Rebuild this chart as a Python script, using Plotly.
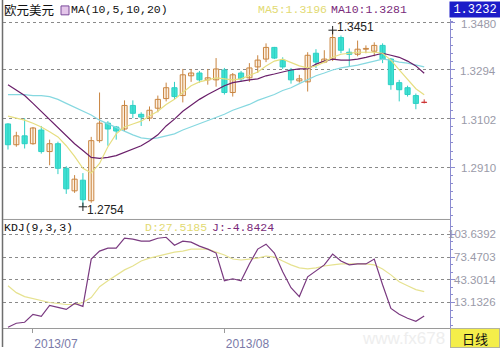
import plotly.graph_objects as go

W, H = 500, 351

# ---------------- data ----------------
opens = [1.3081, 1.2999, 1.3034, 1.3003, 1.3057, 1.2972, 1.3003, 1.2906, 1.2817, 1.2859,
         1.2778, 1.3015, 1.3084, 1.3069, 1.3061, 1.3154, 1.3119, 1.3104, 1.3143, 1.3181,
         1.3224, 1.3193, 1.3271, 1.3282, 1.3255, 1.3255, 1.3294, 1.3205, 1.3282, 1.3263,
         1.3306, 1.3337, 1.3383, 1.3333, 1.3294, 1.3251, 1.3247, 1.3360, 1.3325, 1.3337,
         1.3422, 1.3364, 1.3356, 1.3376, 1.3368, 1.3391, 1.3337, 1.3244, 1.3224, 1.3193, 1.3166]
highs = [1.3084, 1.3050, 1.3104, 1.3069, 1.3073, 1.3019, 1.3011, 1.2914, 1.2879, 1.2887,
         1.3030, 1.3205, 1.3092, 1.3073, 1.3174, 1.3174, 1.3127, 1.3150, 1.3193, 1.3244,
         1.3247, 1.3298, 1.3298, 1.3290, 1.3298, 1.3341, 1.3302, 1.3282, 1.3290, 1.3321,
         1.3352, 1.3399, 1.3385, 1.3344, 1.3302, 1.3275, 1.3364, 1.3376, 1.3372, 1.3451,
         1.3430, 1.3379, 1.3410, 1.3391, 1.3403, 1.3399, 1.3341, 1.3255, 1.3232, 1.3201, 1.3178]
lows = [1.2980, 1.2991, 1.2984, 1.2999, 1.2964, 1.2918, 1.2883, 1.2805, 1.2809, 1.2754,
        1.2770, 1.3007, 1.2995, 1.3019, 1.3053, 1.3104, 1.3073, 1.3092, 1.3127, 1.3170,
        1.3178, 1.3166, 1.3247, 1.3244, 1.3236, 1.3228, 1.3197, 1.3189, 1.3247, 1.3247,
        1.3282, 1.3325, 1.3337, 1.3298, 1.3240, 1.3244, 1.3209, 1.3302, 1.3321, 1.3329,
        1.3360, 1.3306, 1.3348, 1.3360, 1.3348, 1.3321, 1.3216, 1.3170, 1.3189, 1.3139, 1.3162]
closes = [1.2999, 1.3034, 1.3003, 1.3065, 1.2972, 1.3003, 1.2906, 1.2825, 1.2863, 1.2782,
          1.3015, 1.3084, 1.3061, 1.3053, 1.3154, 1.3123, 1.3108, 1.3135, 1.3178, 1.3224,
          1.3189, 1.3275, 1.3282, 1.3255, 1.3263, 1.3298, 1.3205, 1.3275, 1.3259, 1.3302,
          1.3333, 1.3383, 1.3341, 1.3306, 1.3255, 1.3259, 1.3352, 1.3325, 1.3337, 1.3422,
          1.3372, 1.3356, 1.3376, 1.3379, 1.3391, 1.3337, 1.3236, 1.3216, 1.3197, 1.3162, 1.3166]

ma5 = [1.3112, 1.3104, 1.3096, 1.3084, 1.3069, 1.3050, 1.3030, 1.2995, 1.2953, 1.2906,
       1.2887, 1.2925, 1.2991, 1.3042, 1.3069, 1.3081, 1.3092, 1.3112, 1.3131, 1.3158,
       1.3178, 1.3205, 1.3232, 1.3247, 1.3255, 1.3263, 1.3259, 1.3255, 1.3259, 1.3271,
       1.3286, 1.3310, 1.3329, 1.3337, 1.3325, 1.3310, 1.3302, 1.3310, 1.3325, 1.3344,
       1.3356, 1.3360, 1.3364, 1.3364, 1.3364, 1.3360, 1.3333, 1.3294, 1.3255, 1.3220, 1.3196]
ma10 = [1.3236, 1.3216, 1.3193, 1.3162, 1.3131, 1.3096, 1.3065, 1.3034, 1.3003, 1.2976,
        1.2949, 1.2945, 1.2949, 1.2956, 1.2968, 1.2980, 1.2995, 1.3015, 1.3038, 1.3073,
        1.3100, 1.3131, 1.3154, 1.3178, 1.3197, 1.3216, 1.3232, 1.3244, 1.3251, 1.3255,
        1.3259, 1.3271, 1.3278, 1.3286, 1.3294, 1.3298, 1.3298, 1.3317, 1.3329, 1.3337,
        1.3333, 1.3333, 1.3337, 1.3344, 1.3352, 1.3360, 1.3352, 1.3344, 1.3329, 1.3310, 1.3281]
ma20 = [1.3197, 1.3197, 1.3197, 1.3193, 1.3193, 1.3189, 1.3178, 1.3162, 1.3147, 1.3131,
        1.3116, 1.3096, 1.3081, 1.3065, 1.3050, 1.3038, 1.3026, 1.3022, 1.3026, 1.3034,
        1.3042, 1.3057, 1.3069, 1.3084, 1.3096, 1.3108, 1.3119, 1.3135, 1.3147, 1.3158,
        1.3174, 1.3185, 1.3197, 1.3213, 1.3224, 1.3240, 1.3255, 1.3271, 1.3282, 1.3294,
        1.3302, 1.3306, 1.3313, 1.3321, 1.3329, 1.3337, 1.3333, 1.3325, 1.3321, 1.3313, 1.3306]

kdj_j = [-19.7, -14.4, -13.1, -2.6, -5.2, 9.2, 6.6, 3.9, 11.8, 7.9,
         70.8, 81.3, 85.3, 85.3, 98.4, 97.1, 94.5, 94.5, 98.4, 99.7,
         89.2, 94.5, 93.2, 87.9, 84.0, 78.7, 42.0, 44.6, 42.0, 64.3,
         84.0, 90.5, 78.7, 53.8, 32.8, 21.0, 47.2, 55.1, 63.0, 77.4,
         68.2, 63.0, 64.3, 64.3, 70.8, 36.7, 5.3, -2.6, -7.8, -11.8, -4.8424]
kdj_d = [35.4, 26.2, 21.0, 18.4, 15.7, 13.1, 11.8, 10.5, 10.5, 13.1,
         19.7, 34.1, 42.0, 49.8, 56.4, 61.6, 68.2, 72.1, 74.8, 77.4,
         80.0, 81.3, 84.0, 84.0, 84.0, 80.0, 76.1, 70.8, 69.5, 70.8,
         72.1, 74.8, 73.4, 68.2, 63.0, 59.0, 57.7, 59.0, 61.6, 63.0,
         64.3, 64.3, 64.3, 64.3, 63.0, 57.7, 49.8, 40.7, 35.4, 30.2, 27.5185]

price_ticks = [1.3480, 1.3294, 1.3102, 1.2910]
kdj_ticks = [103.6392, 73.4703, 43.3014, 13.1326]
date_tick_index = [3, 26]
date_tick_labels = ["2013/07", "2013/08"]
last_quote = 1.3232
title_text = "欧元美元"
ma_title = "MA(10,5,10,20)"
kdj_title = "KDJ(9,3,3)"
period_label = "日线"
watermark = "www.fx678"

# ---------------- helpers ----------------
def fx(p):
    return p / W

def fy(p):
    return 1 - p / H

n = len(opens)
idx = list(range(n))

UP_LINE, UP_FILL = "#c98540", "#fdf1e2"
DN_LINE, DN_FILL = "#2fcfc4", "#3fe3d3"
FLAT = "#cc3333"
MONO = "Liberation Mono, DejaVu Sans Mono, monospace"
SANS = "Liberation Sans, Arial, sans-serif"
CJK = "Noto Sans CJK SC, sans-serif"

kind = []
for o, c in zip(opens, closes):
    if c > o:
        kind.append("up")
    elif c < o:
        kind.append("dn")
    else:
        kind.append("flat")

fig = go.Figure()

# wicks
for k, col in (("up", UP_LINE), ("dn", DN_LINE), ("flat", FLAT)):
    xs, ys = [], []
    for i in idx:
        if kind[i] == k:
            xs += [i, i, None]
            ys += [lows[i], highs[i], None]
    fig.add_trace(go.Scatter(x=xs, y=ys, mode="lines", line=dict(color=col, width=1),
                             xaxis="x", yaxis="y", hoverinfo="skip"))

# bodies
fills = [UP_FILL if k == "up" else DN_FILL if k == "dn" else FLAT for k in kind]
lines = [UP_LINE if k == "up" else DN_LINE if k == "dn" else FLAT for k in kind]
fig.add_trace(go.Bar(
    x=idx,
    base=[min(o, c) for o, c in zip(opens, closes)],
    y=[max(abs(c - o), 0.00006) for o, c in zip(opens, closes)],
    width=0.62,
    marker=dict(color=fills, line=dict(color=lines, width=1)),
    xaxis="x", yaxis="y", hoverinfo="skip"))

# moving averages
fig.add_trace(go.Scatter(x=idx, y=ma20, mode="lines", line=dict(color="#86d8e0", width=1.2),
                         xaxis="x", yaxis="y", hoverinfo="skip"))
fig.add_trace(go.Scatter(x=idx, y=ma10, mode="lines", line=dict(color="#6a1f6a", width=1.2),
                         xaxis="x", yaxis="y", hoverinfo="skip"))
fig.add_trace(go.Scatter(x=idx, y=ma5, mode="lines", line=dict(color="#e6de80", width=1.2),
                         xaxis="x", yaxis="y", hoverinfo="skip"))

# extreme markers
i_hi = max(idx, key=lambda i: highs[i])
i_lo = min(idx, key=lambda i: lows[i])
fig.add_trace(go.Scatter(x=[i_hi, i_lo], y=[highs[i_hi], lows[i_lo]], mode="markers",
                         marker=dict(symbol="cross-thin", size=6,
                                     line=dict(color="#222222", width=1)),
                         xaxis="x", yaxis="y", hoverinfo="skip"))

# KDJ
fig.add_trace(go.Scatter(x=idx, y=kdj_d, mode="lines", line=dict(color="#e6e290", width=1.2),
                         xaxis="x2", yaxis="y2", hoverinfo="skip"))
fig.add_trace(go.Scatter(x=idx, y=kdj_j, mode="lines", line=dict(color="#7a3a80", width=1.2),
                         xaxis="x2", yaxis="y2", hoverinfo="skip"))

AXIS_COL = "#8c8cd0"
GRID_COL = "#8a8a8a"

annotations = []

def ann(text, x, y, size, color, family, xanchor="left", **kw):
    d = dict(text=text, x=fx(x), y=fy(y), xref="paper", yref="paper", showarrow=False,
             xanchor=xanchor, yanchor="middle", font=dict(size=size, color=color, family=family))
    d.update(kw)
    annotations.append(d)

# extreme labels
annotations.append(dict(text=f"{highs[i_hi]:.4f}", x=i_hi, y=highs[i_hi], xref="x", yref="y",
                        showarrow=False, xanchor="left", yanchor="middle", xshift=2, yshift=3,
                        font=dict(size=12, color="#222222", family=SANS)))
annotations.append(dict(text=f"{lows[i_lo]:.4f}", x=i_lo, y=lows[i_lo], xref="x", yref="y",
                        showarrow=False, xanchor="left", yanchor="middle", xshift=2, yshift=-3,
                        font=dict(size=12, color="#222222", family=SANS)))

# watermark (faint, behind everything else in the annotation layer)
ann(watermark, 447, 342, 17, "#eeeeee", SANS, xanchor="right")

# right-axis labels (right aligned)
for v in price_ticks:
    annotations.append(dict(text=f"{v:.4f}", x=fx(498), y=v, xref="paper", yref="y",
                            showarrow=False, xanchor="right", yanchor="middle", yshift=-1,
                            font=dict(size=11.5, color="#9a9aa8", family=SANS)))
for v in kdj_ticks:
    annotations.append(dict(text=f"{v:.4f}", x=fx(498), y=v, xref="paper", yref="y2",
                            showarrow=False, xanchor="right", yanchor="middle",
                            font=dict(size=11.5, color="#9a9aa8", family=SANS)))

# headers
ann(title_text, 2, 10, 12.5, "#111111", CJK)
ann(ma_title, 69, 10, 11.5, "#111111", MONO)
ann(f"MA5:{ma5[-1]:.4f}", 256, 10, 11.5, "#e2da72", MONO)
ann(f"MA10:{ma10[-1]:.4f}", 329, 10, 11.5, "#7a2a7a", MONO)
ann(kdj_title, 2, 230, 11.5, "#111111", MONO)
ann(f"D:{kdj_d[-1]:.4f}", 143, 230, 11.5, "#e2da72", MONO)
ann(f"J:{kdj_j[-1]:.4f}", 210, 230, 11.5, "#7a2a7a", MONO)

# boxes
ann(f"{last_quote:.4f}", 475, 10, 12, "#ffffff", MONO, xanchor="center",
    bgcolor="#1c1cc8", width=49, height=14, borderpad=0.5)
ann(period_label, 475, 341.5, 13, "#111111", CJK, xanchor="center",
    bgcolor="#f4ee4a", width=47, height=17, borderpad=0.5, bordercolor="#b5b59a", borderwidth=1)

shapes = [
    dict(type="line", xref="paper", yref="paper", x0=fx(2.5), x1=fx(2.5), y0=0, y1=1,
         line=dict(color="#6e6e6e", width=1.5)),
    dict(type="line", xref="paper", yref="paper", x0=fx(3), x1=fx(450), y0=fy(222), y1=fy(222),
         line=dict(color="#9a9a9a", width=1)),
    dict(type="rect", xref="paper", yref="paper", x0=fx(61), x1=fx(69), y0=fy(15), y1=fy(6),
         fillcolor="#e4c6ea", line=dict(color="#7a4a9a", width=1)),
]

fig.update_layout(
    width=W, height=H, margin=dict(l=0, r=0, t=0, b=0),
    paper_bgcolor="white", plot_bgcolor="white",
    showlegend=False, hovermode=False, barmode="overlay",
    xaxis=dict(domain=[fx(3), fx(450)], range=[-0.6, 53.1], anchor="y",
               showticklabels=False, showgrid=False, zeroline=False, showline=False, ticks=""),
    xaxis2=dict(domain=[fx(3), fx(450)], range=[-0.6, 53.1], anchor="y2", matches="x",
                showgrid=False, zeroline=False, showline=True, linecolor="#9a9a9a", linewidth=1,
                tickmode="array", tickvals=date_tick_index, ticktext=date_tick_labels,
                ticks="outside", ticklen=4, tickcolor="#9a9a9a",
                tickfont=dict(size=12, color="#7a7aa8", family=SANS), ticklabelshift=23),
    yaxis=dict(domain=[fy(222), fy(19)], range=[1.2704, 1.3496], anchor="x", side="right",
               showline=True, linecolor=AXIS_COL, linewidth=1, zeroline=False,
               tickmode="array", tickvals=price_ticks, showticklabels=False,
               ticks="outside", ticklen=4, tickcolor=AXIS_COL,
               showgrid=True, gridcolor=GRID_COL, griddash="dot", gridwidth=1,
               minor=dict(ticks="outside", ticklen=2, tickcolor=AXIS_COL, tick0=1.2910,
                          dtick=0.0032, showgrid=False)),
    yaxis2=dict(domain=[fy(332), fy(222)], range=[-21.0, 123.3], anchor="x2", side="right",
                showline=True, linecolor=AXIS_COL, linewidth=1, zeroline=False,
                tickmode="array", tickvals=kdj_ticks, showticklabels=False,
                ticks="outside", ticklen=4, tickcolor=AXIS_COL,
                showgrid=True, gridcolor=GRID_COL, griddash="dot", gridwidth=1,
                minor=dict(ticks="outside", ticklen=2, tickcolor=AXIS_COL, tick0=13.1326,
                           dtick=10.0563, showgrid=False)),
    annotations=annotations,
    shapes=shapes,
)

fig.write_html("out.html")
